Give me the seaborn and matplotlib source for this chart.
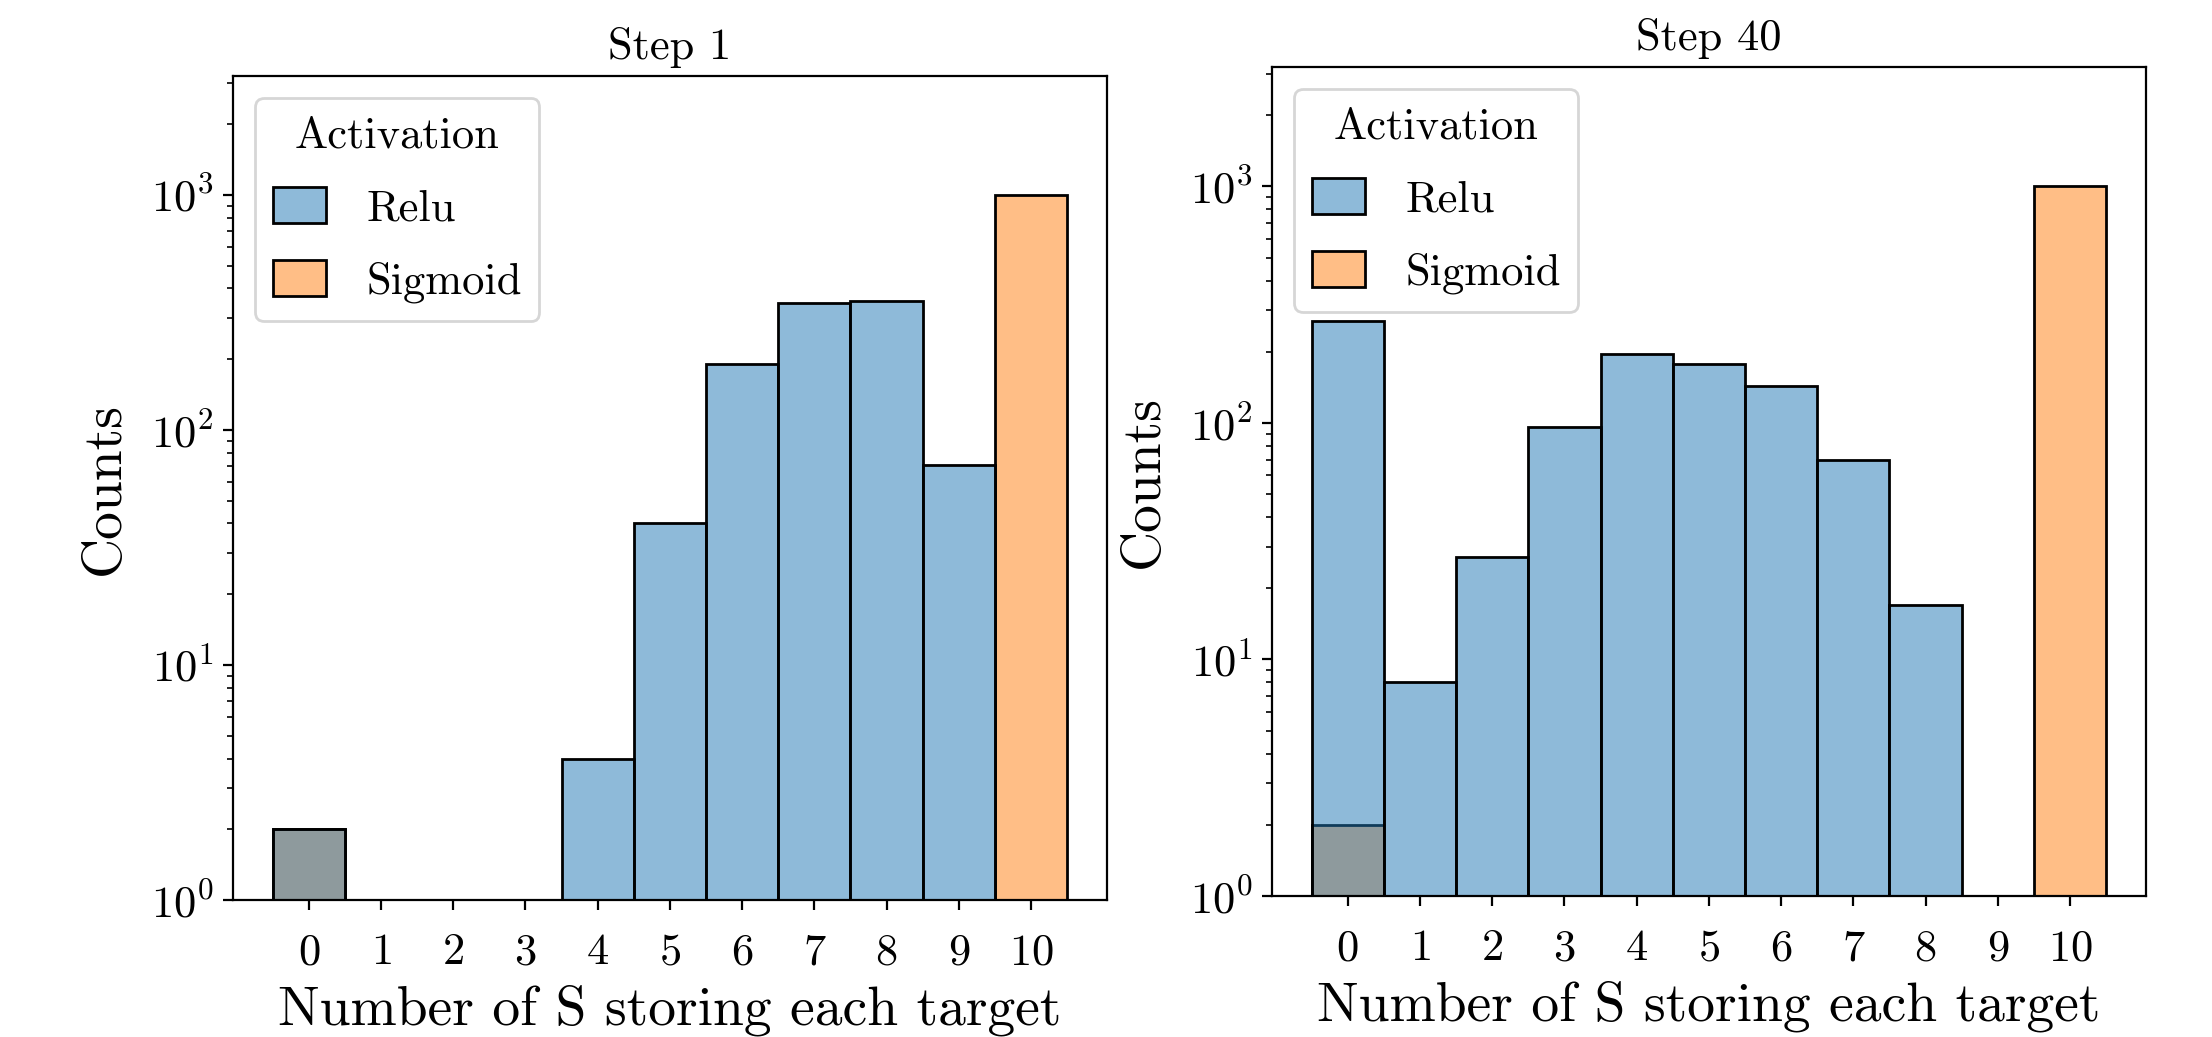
import pandas as pd
import matplotlib
matplotlib.use("Agg")
import matplotlib.pyplot as plt
import seaborn as sns

# number of S storing each target (discrete bins)
bins = list(range(11))

# counts (log y axis)
relu_step1 = [2, 0, 0, 0, 4, 40, 191, 347, 352, 71, 0]
sigmoid_step1 = [2, 0, 0, 0, 0, 0, 0, 0, 0, 0, 1000]
relu_step40 = [271, 8, 27, 96, 195, 177, 143, 70, 17, 1, 0]
sigmoid_step40 = [2, 0, 0, 0, 0, 0, 0, 0, 0, 0, 1000]

titles = ["Step 1", "Step 40"]
hue_order = ["Relu", "Sigmoid"]

plt.rcParams["font.family"] = "serif"
plt.rcParams["font.serif"] = ["cmr10"]
plt.rcParams["mathtext.fontset"] = "cm"
plt.rcParams["axes.unicode_minus"] = False
plt.rcParams["axes.formatter.use_mathtext"] = True


def make_df(relu, sigmoid):
    rows = []
    for b, r, s in zip(bins, relu, sigmoid):
        if r > 0:
            rows.append({"n": b, "Activation": "Relu", "count": r})
        if s > 0:
            rows.append({"n": b, "Activation": "Sigmoid", "count": s})
    return pd.DataFrame(rows)


data = [make_df(relu_step1, sigmoid_step1), make_df(relu_step40, sigmoid_step40)]

fig = plt.figure(figsize=(11.06, 5.185), dpi=200)
ax1 = fig.add_axes([0.1053, 0.132, 0.3951, 0.7946])
ax2 = fig.add_axes([0.5750, 0.136, 0.3951, 0.7994])

for ax, df, title in zip([ax1, ax2], data, titles):
    sns.histplot(data=df, x="n", weights="count", hue="Activation",
                 hue_order=hue_order, discrete=True, ax=ax)
    ax.set_yscale("log")
    ax.set_ylim(1, 3200)
    ax.set_xticks(bins)
    ax.tick_params(axis="both", labelsize=16)
    ax.tick_params(axis="x", pad=8.5)
    ax.set_xlabel("Number of S storing each target", fontsize=20)
    ax.set_ylabel("Counts", fontsize=20, labelpad=7.5)
    ax.set_title(title, fontsize=16)

    # restyle seaborn's legend
    old = ax.get_legend()
    handles = old.legend_handles
    labels = [t.get_text() for t in old.get_texts()]
    old.remove()
    ax.legend(handles, labels, title="Activation", loc="upper left",
              fontsize=16, title_fontsize=16,
              handlelength=1.2, handleheight=0.85,
              labelspacing=0.7, handletextpad=0.9)

fig.savefig("out.png", dpi=200)
